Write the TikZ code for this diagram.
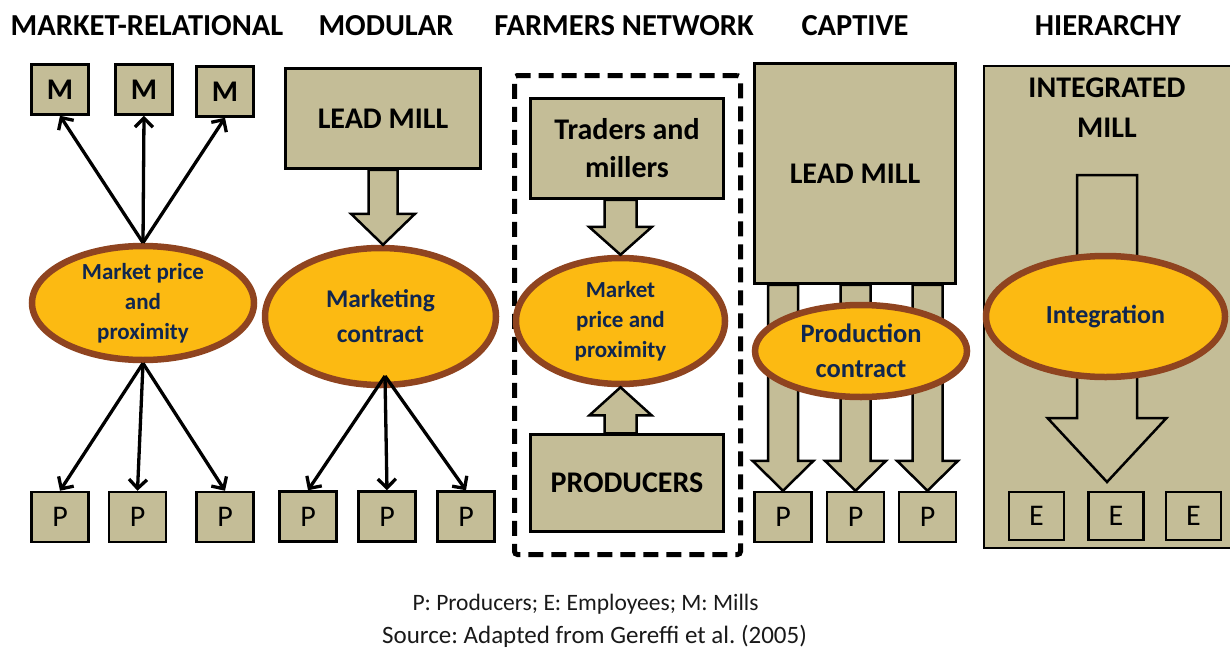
\documentclass[tikz,border=0pt]{standalone}
\usepackage{fontspec}
\setmainfont{Carlito}
\usetikzlibrary{shapes.geometric,arrows.meta,calc}
\definecolor{tanfill}{HTML}{C4BD97}
\definecolor{ovalfill}{HTML}{FCBA12}
\definecolor{ovalrim}{HTML}{8F4420}
\definecolor{ovaltext}{HTML}{10264F}
\frenchspacing
\tikzset{
	heading/.style={font=\bfseries\fontsize{30.5}{31}\selectfont},
	box/.style={draw=black,line width=2.5pt,fill=tanfill,inner sep=0pt,align=center,font=\bfseries\fontsize{30}{38}\selectfont},
	boxlabel/.style={align=center,font=\bfseries\fontsize{30}{40}\selectfont},
	letterbox/.style={box,minimum width=57pt,minimum height=50pt,font=\fontsize{30}{30}\selectfont},
	oval/.style={ellipse,draw=ovalrim,line width=6.5pt,fill=ovalfill,text=ovaltext,inner sep=0pt,align=center},
	frame/.style={draw=black,line width=5pt,dash pattern=on 15pt off 8pt,rounded corners=3pt,minimum width=226pt,minimum height=479pt},
	thinarrow/.style={line width=3.3pt,-{Straight Barb[length=9pt,width=18pt]}},
	fatarrow/.style={draw=black,line width=2.5pt,fill=tanfill,line join=miter},
	note/.style={text=black!90}
}
\newcommand{\fatarrow}[5]{%
	\coordinate (fa) at ($(#2)!#5!(#1)$);
	\draw[fatarrow] ($(#1)!#3!90:(#2)$) -- ($(fa)!#3!90:(#2)$) -- ($(fa)!#4!90:(#2)$) -- (#2)
		-- ($(fa)!#4!-90:(#2)$) -- ($(fa)!#3!-90:(#2)$) -- ($(#1)!#3!-90:(#2)$) -- cycle;
}
\begin{document}
\begin{tikzpicture}[x=1pt,y=-1pt]
	\useasboundingbox (0,0) rectangle (1230,653);
	\node[heading] (t1) at (147,26) {MARKET-RELATIONAL};
	\node[heading] (t2) at (386,26) {MODULAR};
	\node[heading] (t3) at (624,26) {FARMERS NETWORK};
	\node[heading] (t4) at (855,26) {CAPTIVE};
	\node[heading] (t5) at (1108,26) {HIERARCHY};

	\node[letterbox,font=\bfseries\fontsize{30}{30}\selectfont] (M1) at (60,89.5) {M};
	\node[letterbox,font=\bfseries\fontsize{30}{30}\selectfont] (M2) at (144,89.5) {M};
	\node[letterbox,font=\bfseries\fontsize{30}{30}\selectfont] (M3) at (225,91.5) {M};
	\node[oval,minimum width=222pt,minimum height=114pt,font=\bfseries\fontsize{23}{30}\selectfont] (ell1) at (143,303) {Market price\\and\\proximity};
	\node[letterbox] (P1a) at (60,517) {P};
	\node[letterbox] (P1b) at (137.5,517) {P};
	\node[letterbox] (P1c) at (225,517) {P};
	\draw[thinarrow] (ell1.north) -- (M1.south);
	\draw[thinarrow] (ell1.north) -- (M2.south);
	\draw[thinarrow] (ell1.north) -- (M3.south);
	\draw[thinarrow] (ell1.south) -- (P1a.north);
	\draw[thinarrow] (ell1.south) -- (P1b.north);
	\draw[thinarrow] (ell1.south) -- (P1c.north);

	\node[box,minimum width=195pt,minimum height=100pt] (lead2) at (383,118.5) {LEAD MILL};
	\node[oval,minimum width=231pt,minimum height=137pt,font=\bfseries\fontsize{25.5}{35}\selectfont] (ell2) at (380.5,316.5) {Marketing\\contract};
	\node[letterbox] (P2a) at (308,516.5) {P};
	\node[letterbox] (P2b) at (387,516.5) {P};
	\node[letterbox] (P2c) at (466,516.5) {P};
	\coordinate (tip2) at (lead2.south |- ell2.north);
	\fatarrow{lead2.south}{tip2}{14.5pt}{32pt}{31pt}
	\coordinate (hub2) at (385,376);
	\draw[thinarrow] (hub2) -- (P2a.north);
	\draw[thinarrow] (hub2) -- (P2b.north);
	\draw[thinarrow] (hub2) -- (P2c.north);

	\node[frame] (frame3) at (627.5,315) {};
	\node[box,minimum width=193pt,minimum height=100pt] (traders) at (627,148.5) {Traders and\\millers};
	\node[oval,minimum width=209pt,minimum height=126pt,font=\bfseries\fontsize{23}{30}\selectfont] (ell3) at (620.5,321) {Market\\price and\\proximity};
	\node[box,minimum width=193pt,minimum height=97pt] (producers) at (627,483) {PRODUCERS};
	\coordinate (top3) at (ell3.north |- traders.south);
	\fatarrow{top3}{ell3.north}{16pt}{31.5pt}{28pt}
	\coordinate (bot3) at (ell3.south |- producers.north);
	\fatarrow{bot3}{ell3.south}{16pt}{31pt}{28pt}

	\node[box,minimum width=201pt,minimum height=220pt] (lead4) at (855,173.5) {LEAD MILL};
	\node[letterbox] (P4a) at (783,517) {P};
	\node[letterbox] (P4b) at (855.5,517) {P};
	\node[letterbox] (P4c) at (927.5,517) {P};
	\coordinate (s4a) at (P4a.north |- lead4.south);
	\coordinate (s4b) at (P4b.north |- lead4.south);
	\coordinate (s4c) at (P4c.north |- lead4.south);
	\fatarrow{s4a}{P4a.north}{15pt}{30.5pt}{30pt}
	\fatarrow{s4b}{P4b.north}{15pt}{30.5pt}{30pt}
	\fatarrow{s4c}{P4c.north}{15pt}{30.5pt}{30pt}
	\node[oval,minimum width=212pt,minimum height=92pt,font=\bfseries\fontsize{26.5}{35}\selectfont] (ell4) at (861,351) {Production\\contract};

	\node[box,minimum width=260pt,minimum height=482pt,anchor=north west] (mill5) at (982.5,64.5) {};
	\node[boxlabel] (mill5name) at (1107,108) {INTEGRATED\\MILL};
	\node[letterbox,minimum width=55pt,minimum height=48pt] (E5a) at (1036.5,516) {E};
	\node[letterbox,minimum width=55pt,minimum height=48pt] (E5b) at (1116,516) {E};
	\node[letterbox,minimum width=55pt,minimum height=48pt] (E5c) at (1193.5,516) {E};
	\coordinate (top5) at (1107,175);
	\coordinate (tip5) at (1107,482);
	\fatarrow{top5}{tip5}{30pt}{59.5pt}{64pt}
	\node[oval,minimum width=239pt,minimum height=121pt,font=\bfseries\fontsize{26}{30}\selectfont] (ell5) at (1105.5,316.5) {Integration};

	\node[note,font=\fontsize{23.5}{24}\selectfont] (key) at (585.5,604) {P: Producers;\ E: Employees;\ M: Mills};
	\node[note,font=\fontsize{25}{26}\selectfont] (source) at (594.5,636) {Source: Adapted from Gereffi et al. (2005)};
\end{tikzpicture}
\end{document}
